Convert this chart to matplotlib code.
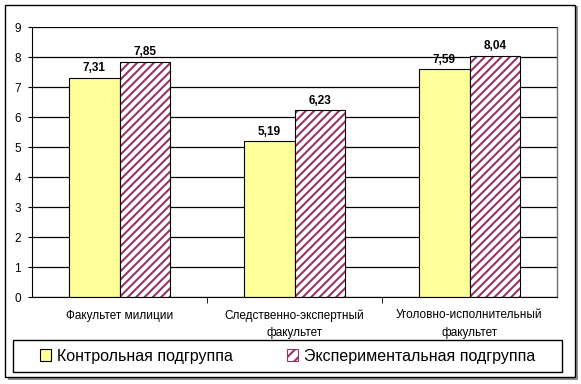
import numpy as np
import matplotlib
matplotlib.use("Agg")
from matplotlib import pyplot as plt
from matplotlib.patches import Rectangle, Patch

categories = ["Факультет милиции", "Следственно-экспертный\nфакультет", "Уголовно-исполнительный\nфакультет"]
control = [7.31, 5.19, 7.59]
experimental = [7.85, 6.23, 8.04]
series_names = ["Контрольная подгруппа", "Экспериментальная подгруппа"]
yticks = [0, 1, 2, 3, 4, 5, 6, 7, 8, 9]

plt.rcParams['font.family'] = ['Liberation Sans', 'DejaVu Sans']
plt.rcParams['hatch.linewidth'] = 1.5

W, H = 581, 384
fig = plt.figure(figsize=(W/100, H/100), dpi=100)

# outer frame with shadow
fig.patches.append(Rectangle((8/W, 4/H), 570/W, 374/H, transform=fig.transFigure,
                             facecolor='#909090', edgecolor='none', zorder=0))
fig.patches.append(Rectangle((5/W, 7/H), 570/W, 372/H, transform=fig.transFigure,
                             facecolor='white', edgecolor='black', linewidth=1.0, zorder=1))

ax = fig.add_axes([32/W, 1 - 297/H, 525/W, 270/H])
ax.set_zorder(2)
ax.patch.set_alpha(0)
x = np.arange(len(categories))
w = 0.29
b1 = ax.bar(x - w/2, control, w, color='#FFFF99', edgecolor='black', linewidth=0.8, zorder=3)
# hatch drawn in maroon, outline drawn on top in black
ax.bar(x + w/2, experimental, w, color='white', edgecolor='#993366', linewidth=0,
       hatch='////', zorder=3)
b2 = ax.bar(x + w/2, experimental, w, fill=False, edgecolor='black', linewidth=0.8, zorder=3.5)

for bars, vals in ((b1, control), (b2, experimental)):
    for r, v in zip(bars, vals):
        ax.text(r.get_x() + r.get_width()/2, v + 0.12, ("%.2f" % v).replace('.', ','),
                ha='center', va='bottom', fontsize=8.5, fontweight='bold', zorder=4)

ax.set_xlim(-0.5, 2.5)
ax.set_ylim(0, 9)
ax.set_yticks(yticks)
ax.tick_params(axis='y', labelsize=8.5, length=3, direction='out', pad=5)
ax.yaxis.grid(True, color='black', linewidth=0.9, zorder=0)
ax.set_axisbelow(True)

ax.set_xticks(x)
ax.set_xticklabels(categories, fontsize=8.5, linespacing=1.6)
ax.tick_params(axis='x', length=0, pad=9)
ax.set_xticks([0.5, 1.5], minor=True)
ax.tick_params(axis='x', which='minor', length=4, direction='out')
for s in ['top', 'right']:
    ax.spines[s].set_visible(False)
ax.spines['bottom'].set_zorder(5)

# right edge of plot area
ax.plot([1, 1], [0, 1], transform=ax.transAxes, color='#707070', linewidth=1.0, clip_on=False)

# legend box
fig.patches.append(Rectangle((13/W, 1 - 372/H), 549/W, 32/H, transform=fig.transFigure,
                             facecolor='white', edgecolor='black', linewidth=1.0, zorder=2))
h1 = Patch(facecolor='#FFFF99', edgecolor='black', linewidth=0.8)
h2 = Patch(facecolor='white', edgecolor='#993366', linewidth=0.8, hatch='///')
leg = fig.legend(handles=[h1, h2], labels=series_names, loc='center left',
                 bbox_to_anchor=(40/W, 1 - 356/H), ncol=2, fontsize=11.5, frameon=False,
                 handlelength=0.7, handleheight=0.7, handletextpad=0.35,
                 columnspacing=3.4, borderaxespad=0, borderpad=0)
leg.set_zorder(3)

fig.savefig("out.png", dpi=100)
